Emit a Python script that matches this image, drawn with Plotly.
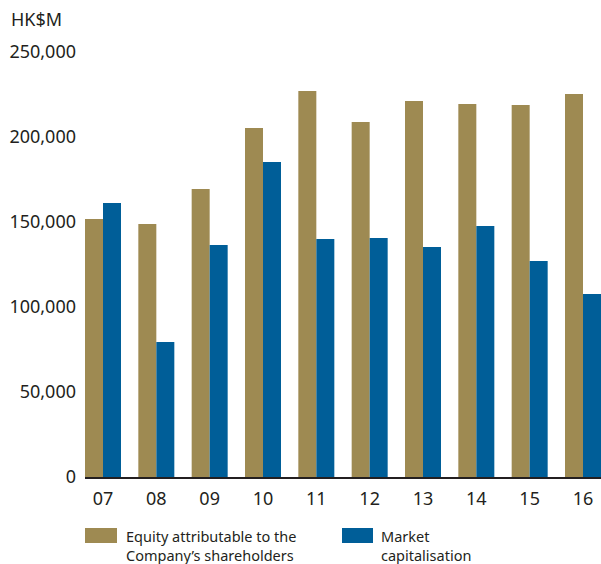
import plotly.graph_objects as go

years = ["07", "08", "09", "10", "11", "12", "13", "14", "15", "16"]
equity = [151800, 148800, 169400, 205300, 227000, 208800, 221200, 219400, 218800, 225300]
market_cap = [161200, 79400, 136500, 185300, 140000, 140600, 135300, 147600, 127100, 107600]
y_ticks = [0, 50000, 100000, 150000, 200000, 250000]
y_ticktext = ["0", "50,000", "100,000", "150,000", "200,000", "250,000"]
series_labels = ["Equity attributable to the<br>Company\u2019s shareholders", "Market<br>capitalisation"]

GOLD = "#9E8A52"
BLUE = "#005E98"
TXT = "#231F20"
FONT = "Noto Sans"

fig = go.Figure()
fig.add_trace(go.Bar(x=years, y=equity, name="Equity attributable to the Company\u2019s shareholders",
                     marker=dict(color=GOLD, line=dict(width=0))))
fig.add_trace(go.Bar(x=years, y=market_cap, name="Market capitalisation",
                     marker=dict(color=BLUE, line=dict(width=0))))

fig.update_layout(
    width=601, height=564,
    margin=dict(l=85, r=0, t=52, b=87),
    paper_bgcolor="white", plot_bgcolor="white",
    barmode="group", bargap=0.325, bargroupgap=0,
    showlegend=False,
    font=dict(family=FONT, size=18, color=TXT),
)
fig.update_xaxes(
    type="category", range=[-0.3375, 9.3375],
    showline=True, linecolor="#231F20", linewidth=1.5,
    showgrid=False, ticks="", tickfont=dict(size=18, color=TXT),
    ticklabelstandoff=5,
)
fig.update_yaxes(
    range=[0, 250000], tickvals=y_ticks, ticktext=y_ticktext,
    showgrid=False, zeroline=False, showline=False, ticks="",
    tickfont=dict(size=18, color=TXT), ticklabelstandoff=8,
)

W, H = 516.0, 425.0
def px(xp):
    return (xp - 85) / W
def py(yp):
    return (477 - yp) / H

fig.add_annotation(xref="paper", yref="paper", x=px(9), y=py(19), text="HK$M",
                   showarrow=False, xanchor="left", yanchor="middle",
                   font=dict(size=18, color=TXT, family=FONT))

swatches = [(85, 117, GOLD, 124), (342, 373, BLUE, 379)]
for (x0, x1, col, tx), label in zip(swatches, series_labels):
    fig.add_shape(type="rect", xref="paper", yref="paper",
                  x0=px(x0), x1=px(x1), y0=py(528), y1=py(543),
                  fillcolor=col, line=dict(width=0))
    fig.add_annotation(xref="paper", yref="paper", x=px(tx), y=py(545), text=label,
                       showarrow=False, xanchor="left", yanchor="middle", align="left",
                       font=dict(size=14.5, color=TXT, family=FONT))

fig.write_html("out.html", config={"displayModeBar": False},
               post_script="document.body.style.margin='0';document.body.style.overflow='hidden';")
